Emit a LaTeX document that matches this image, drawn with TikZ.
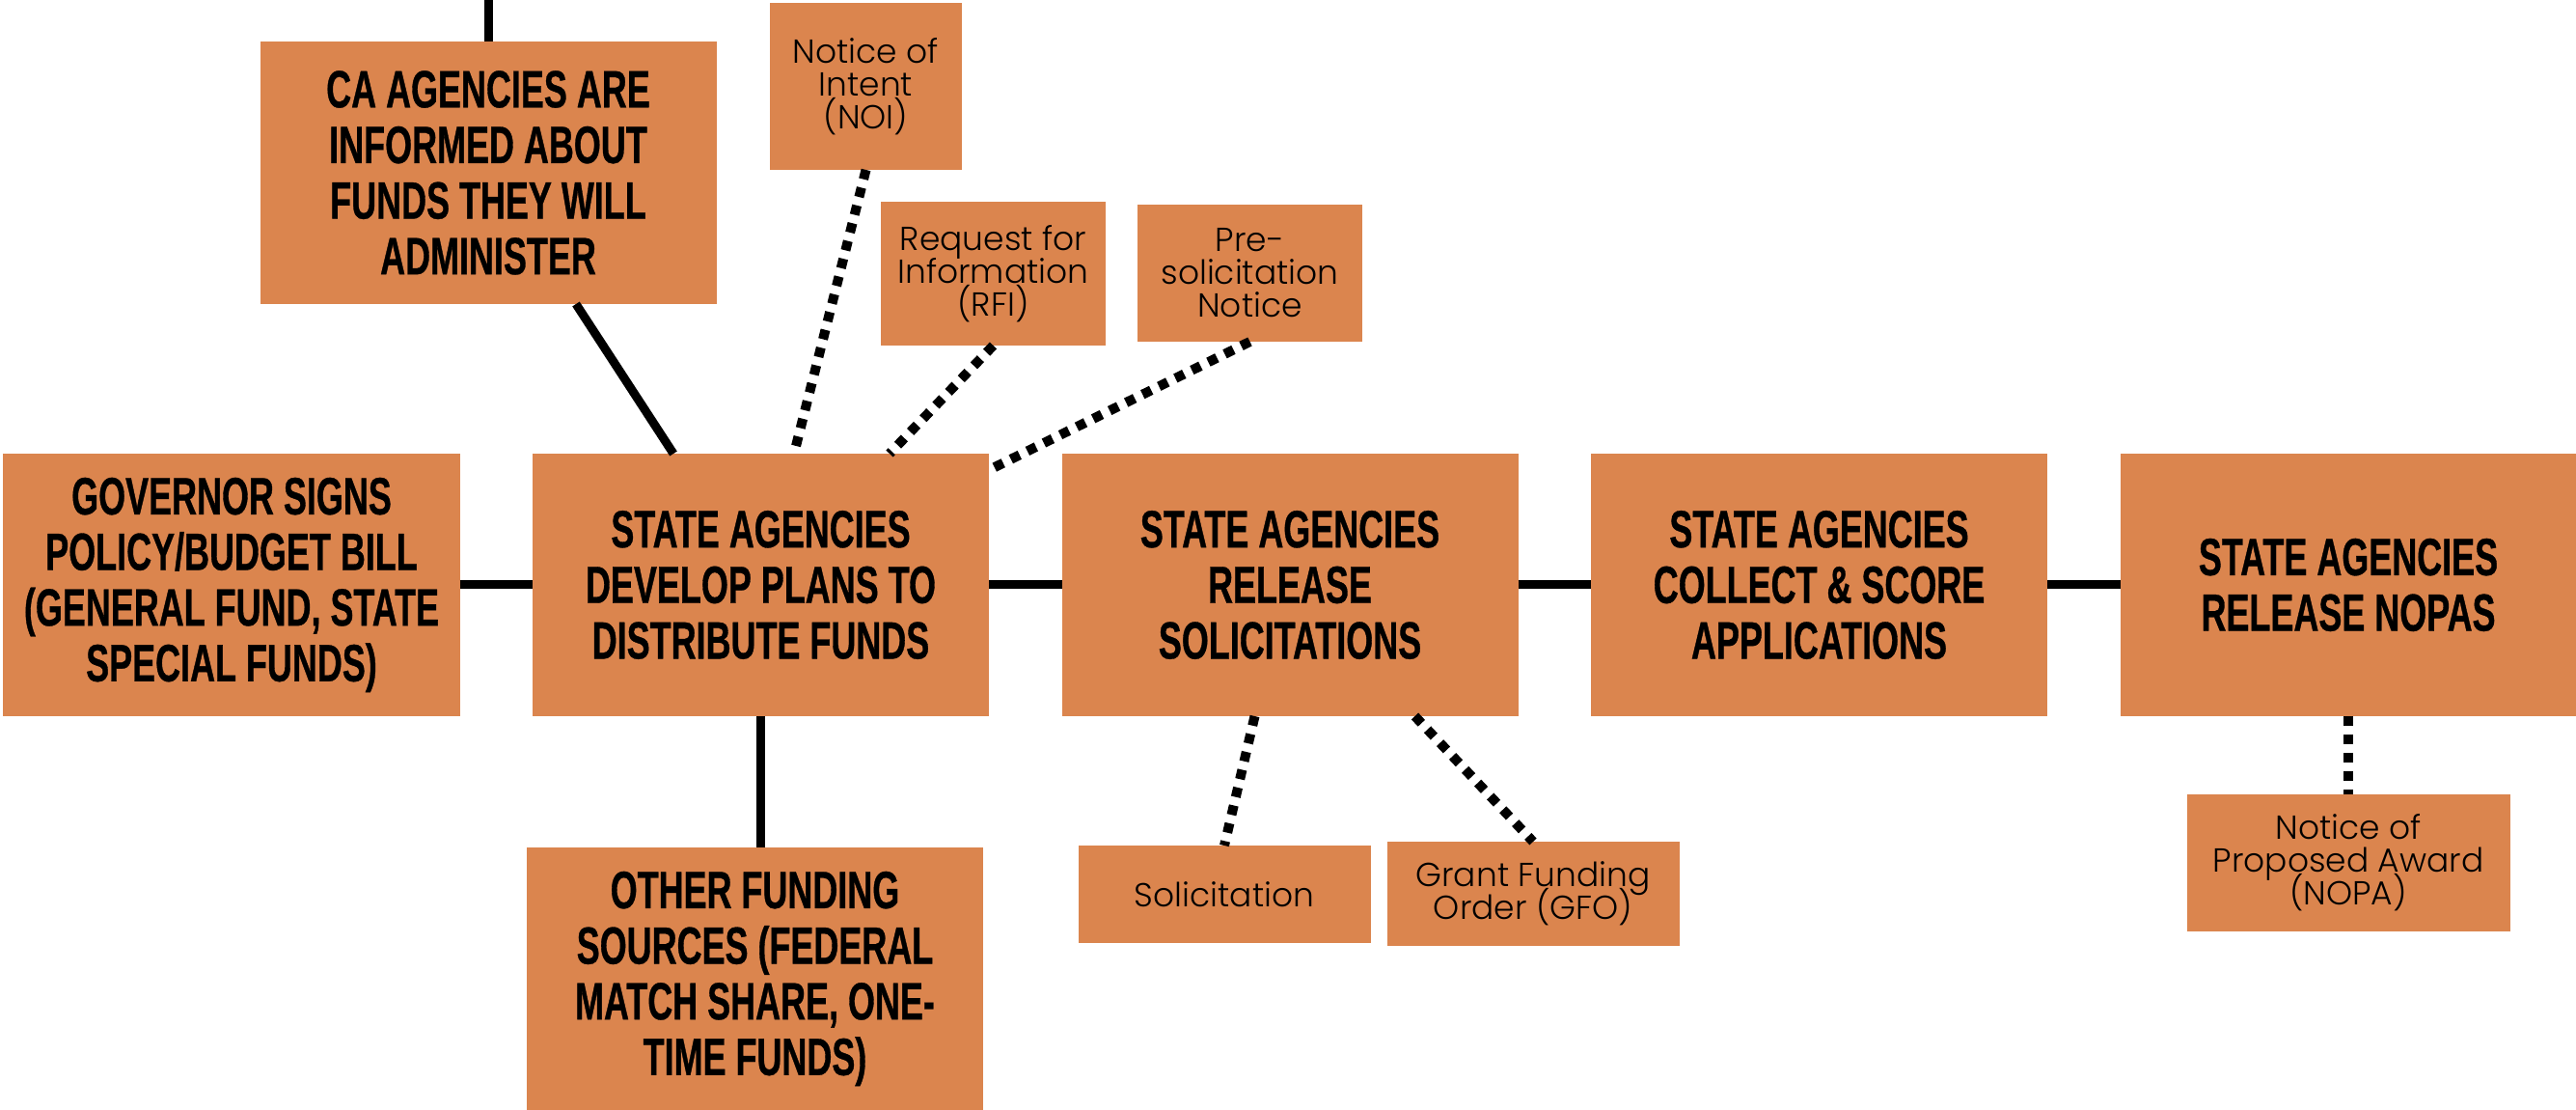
\documentclass[tikz,border=0pt]{standalone}
\usepackage{fontspec}
\usetikzlibrary{positioning,chains}
\newfontfamily\headfont[FakeStretch=0.66,FakeBold=0.6]{Liberation Sans}
\newfontfamily\notefont{Poppins Light}
\newcommand\notesize{\fontsize{9.8}{9.7}\selectfont\lineskiplimit=-10pt\relax}
\definecolor{boxorange}{HTML}{DB854E}

\begin{document}
\begin{tikzpicture}[phase/.style={rectangle,fill=boxorange,inner sep=0pt,outer sep=0pt,align=center,
minimum width=4.73cm,minimum height=2.72cm,font=\headfont\bfseries\fontsize{15.5}{16.4}\selectfont},
note/.style={rectangle,fill=boxorange,inner sep=0pt,outer sep=0pt,align=center,
font=\notefont\notesize},
link/.style={line width=0.09cm},
hint/.style={line width=0.1cm,dash pattern=on 0.1cm off 0.09cm}]
\useasboundingbox (0,0) rectangle (26.7,-11.5);
\begin{scope}[start chain=going right,node distance=0.755cm,nodes={phase,on chain,join},
every join/.style=link]
\path node at (2.40,-6.06) (gov) {GOVERNOR SIGNS\\POLICY/BUDGET BILL\\(GENERAL FUND, STATE\\SPECIAL FUNDS)}
node (dev) {STATE AGENCIES\\DEVELOP PLANS TO\\DISTRIBUTE FUNDS}
node (rel) {STATE AGENCIES\\RELEASE\\SOLICITATIONS}
node (col) {STATE AGENCIES\\COLLECT \& SCORE\\APPLICATIONS}
node (nopas) {STATE AGENCIES\\RELEASE NOPAS};
\end{scope}
\node[phase,above=1.55cm of dev,xshift=-2.825cm] (ca) {CA AGENCIES ARE\\INFORMED ABOUT\\FUNDS THEY WILL\\ADMINISTER};
\node[phase,below=1.36cm of dev,xshift=-0.06cm] (other) {OTHER FUNDING\\SOURCES (FEDERAL\\MATCH SHARE, ONE-\\TIME FUNDS)};
\node[note,above=2.94cm of dev,xshift=1.09cm,minimum width=1.99cm,minimum height=1.73cm] (noi) {Notice of\\Intent\\(NOI)};
\node[note,above=1.12cm of dev,xshift=2.41cm,minimum width=2.33cm,minimum height=1.49cm] (rfi) {Request for\\Information\\(RFI)};
\node[note,above=1.16cm of dev,xshift=5.07cm,minimum width=2.33cm,minimum height=1.42cm] (pre) {Pre-\\solicitation\\Notice};
\node[note,below=1.34cm of rel,xshift=-0.68cm,minimum width=3.03cm,minimum height=1.01cm] (sol) {Solicitation};
\node[note,below=1.30cm of rel,xshift=2.52cm,minimum width=3.03cm,minimum height=1.08cm] (gfo) {Grant Funding\\Order (GFO)};
\node[note,below=0.81cm of nopas,minimum width=3.35cm,minimum height=1.42cm] (nopa) {Notice of\\Proposed Award\\(NOPA)};
\path (ca.north) ++ (0,0.46) coordinate (lead);
\draw[link] (lead) -- (ca.north);
\draw[link] ([xshift=0.91cm]ca.south) -- ([xshift=-0.905cm]dev.north);
\draw[link] (dev.south) -- (dev.south |- other.north);
\draw[hint] (noi.south) -- ([xshift=0.345cm]dev.north);
\draw[hint] (rfi.south) -- ([xshift=1.335cm]dev.north);
\draw[hint] (pre.south) -- ([yshift=-0.17cm]dev.north east);
\draw[hint] ([xshift=-0.365cm]rel.south) -- (sol.north);
\draw[hint] ([xshift=1.295cm]rel.south) -- (gfo.north);
\draw[hint] (nopas.south) -- (nopa.north);
\end{tikzpicture}
\end{document}
